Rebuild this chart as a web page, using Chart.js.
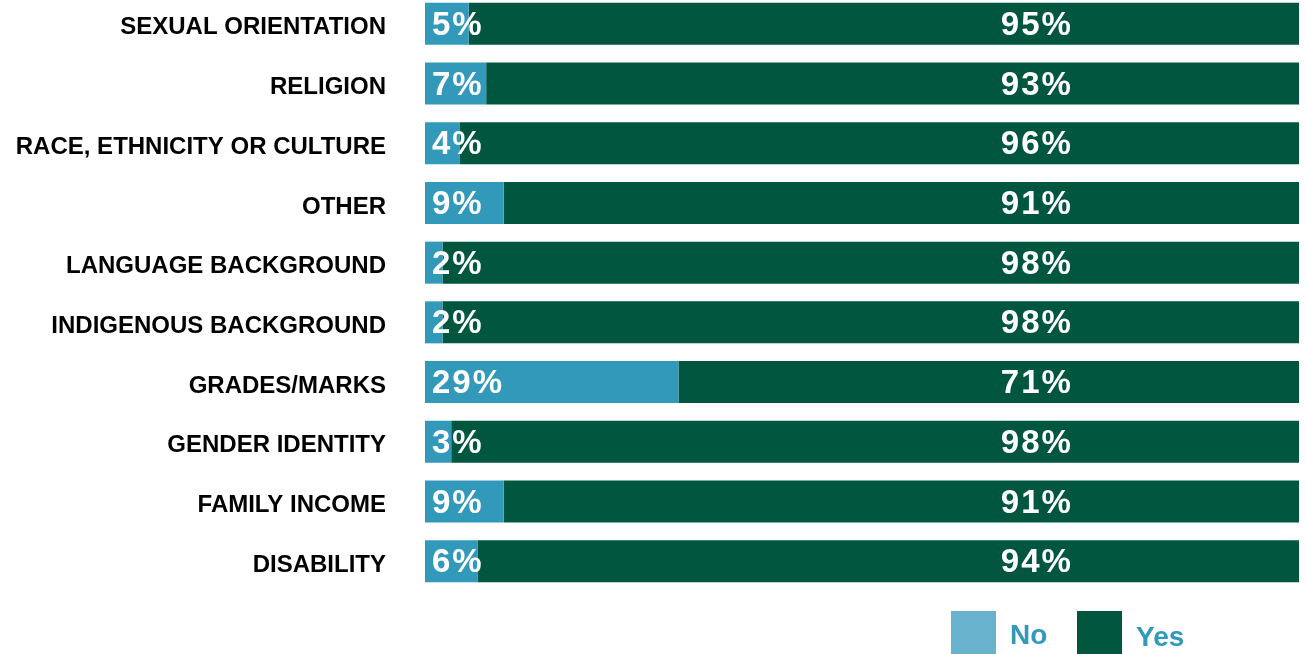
<!DOCTYPE html>
<html>
<head>
<meta charset="utf-8">
<script src="https://cdn.jsdelivr.net/npm/chart.js@4"></script>
<style>
  html, body { margin: 0; padding: 0; background: #fff; overflow: hidden; }
  #wrap { position: relative; width: 1306px; height: 654px; }
  #caja { position: absolute; left: 0; top: -6px; width: 1306px; height: 660px; }
  .leyenda { position: absolute; top: 611px; font: bold 28px 'Liberation Sans', Arial, sans-serif; color: #3399bb; }
  .leyenda span { position: absolute; top: 0; width: 45px; height: 43px; }
  .leyenda b { position: absolute; top: 8px; white-space: nowrap; }
</style>
</head>
<body>
<div id="wrap">
  <div id="caja"><canvas id="myChart"></canvas></div>
  <div class="leyenda" style="left:951px"><span style="left:0;background:#69b2ce"></span><b style="left:59px">No</b></div>
  <div class="leyenda" style="left:1077px"><span style="left:0;background:#00563f"></span><b style="left:59px;top:10px">Yes</b></div>
</div>
<script>
const categorias = [
  'SEXUAL ORIENTATION',
  'RELIGION',
  'RACE, ETHNICITY OR CULTURE',
  'OTHER',
  'LANGUAGE BACKGROUND',
  'INDIGENOUS BACKGROUND',
  'GRADES/MARKS',
  'GENDER IDENTITY',
  'FAMILY INCOME',
  'DISABILITY'
];
const valoresNo = [5, 7, 4, 9, 2, 2, 29, 3, 9, 6];
const valoresSi = [95, 93, 96, 91, 98, 98, 71, 98, 91, 94];

const fuente = "'Liberation Sans', Arial, sans-serif";

// etiquetas blancas de porcentaje dentro de las barras
const etiquetas = {
  id: 'etiquetas',
  afterDatasetsDraw(chart) {
    const ctx = chart.ctx;
    const xScale = chart.scales.x;
    ctx.save();
    ctx.fillStyle = '#ffffff';
    ctx.font = 'bold 33px ' + fuente;
    ctx.letterSpacing = '2px';
    ctx.textBaseline = 'middle';
    chart.getDatasetMeta(0).data.forEach((bar, i) => {
      ctx.textAlign = 'left';
      ctx.fillText(valoresNo[i] + '%', bar.base + 7, bar.y + 2);
    });
    chart.getDatasetMeta(1).data.forEach((bar, i) => {
      ctx.textAlign = 'center';
      ctx.fillText(valoresSi[i] + '%', xScale.getPixelForValue(70), bar.y + 2);
    });
    ctx.restore();
  }
};

const ctx = document.getElementById('myChart');
const myChart = new Chart(ctx, {
  type: 'bar',
  data: {
    labels: categorias,
    datasets: [{
      label: 'No',
      data: valoresNo,
      backgroundColor: '#3399bb',
      barPercentage: 0.704,
      categoryPercentage: 1
    }, {
      label: 'Yes',
      data: valoresSi,
      backgroundColor: '#00563f',
      barPercentage: 0.704,
      categoryPercentage: 1
    }]
  },
  options: {
    indexAxis: 'y',
    responsive: true,
    maintainAspectRatio: false,
    animation: false,
    layout: { padding: { top: 0, right: 7, bottom: 63, left: 0 } },
    plugins: {
      legend: { display: false },
      tooltip: { enabled: false }
    },
    scales: {
      x: {
        stacked: true,
        min: 0,
        max: 100,
        display: false
      },
      y: {
        stacked: true,
        grid: { display: false, drawTicks: false },
        border: { display: false },
        ticks: {
          color: '#000000',
          padding: 39,
          labelOffset: 4,
          font: { family: fuente, size: 24, weight: 'bold' }
        },
        afterFit(scale) {
          // ancho fijo para las etiquetas y sin relleno vertical extra
          scale.width = 425;
          scale.paddingTop = 0;
          scale.paddingBottom = 0;
        }
      }
    }
  },
  plugins: [etiquetas]
});
</script>
</body>
</html>
